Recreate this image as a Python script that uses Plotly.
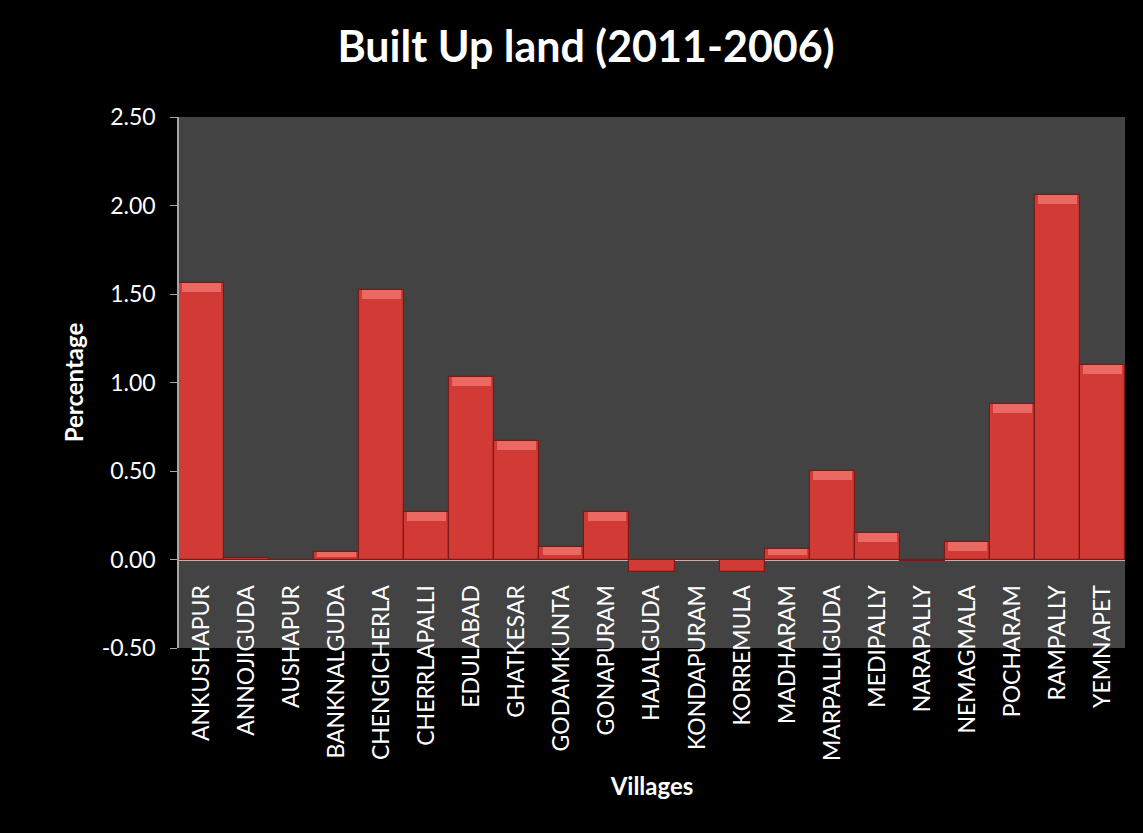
import plotly.graph_objects as go

# Change in built-up land share per village, 2006 -> 2011 (percentage points)
villages = [
    "ANKUSHAPUR", "ANNOJIGUDA", "AUSHAPUR", "BANKNALGUDA", "CHENGICHERLA",
    "CHERRLAPALLI", "EDULABAD", "GHATKESAR", "GODAMKUNTA", "GONAPURAM",
    "HAJALGUDA", "KONDAPURAM", "KORREMULA", "MADHARAM", "MARPALLIGUDA",
    "MEDIPALLY", "NARAPALLY", "NEMAGMALA", "POCHARAM", "RAMPALLY", "YEMNAPET",
]
built_up_change = [
    1.56, 0.01, 0.00, 0.04, 1.52,
    0.27, 1.03, 0.67, 0.07, 0.27,
    -0.07, 0.00, -0.07, 0.06, 0.50,
    0.15, -0.01, 0.10, 0.88, 2.06, 1.10,
]
y_ticks = [-0.5, 0.0, 0.5, 1.0, 1.5, 2.0, 2.5]
y_tick_text = [f"{v:.2f}" for v in y_ticks]

y_min, y_max = y_ticks[0], y_ticks[-1]
zero_pos = (0 - y_min) / (y_max - y_min)

FONT = "Lato"
BAR = "#d23a35"
BAR_EDGE = "#7a1a17"
BEVEL = "#ea6a63"

fig = go.Figure()

fig.add_trace(go.Bar(
    x=villages,
    y=built_up_change,
    marker=dict(color=BAR, line=dict(color=BAR_EDGE, width=1.2)),
    hoverinfo="x+y",
))

# lighter bevel strip along the top of each positive bar
bevel_h = 0.05
bevel_base = [v - min(bevel_h, v * 0.6) if v > 0.02 else None for v in built_up_change]
bevel_len = [min(bevel_h, v * 0.6) if v > 0.02 else None for v in built_up_change]
fig.add_trace(go.Bar(
    x=villages,
    y=bevel_len,
    base=bevel_base,
    marker=dict(color=BEVEL, line=dict(width=0)),
    width=0.86,
    hoverinfo="skip",
))

fig.update_layout(
    width=1143,
    height=833,
    paper_bgcolor="#000000",
    plot_bgcolor="#434343",
    barmode="overlay",
    bargap=0,
    showlegend=False,
    margin=dict(l=179, r=18, t=117, b=185),
    title=dict(
        text="<b>Built Up land (2011-2006)</b>",
        x=586 / 1143, xanchor="center",
        y=1 - 47 / 833, yanchor="middle",
        font=dict(family=FONT, size=43, color="#ffffff"),
    ),
    font=dict(family=FONT, color="#ffffff"),
)

fig.update_xaxes(
    type="category",
    anchor="free",
    position=zero_pos,
    showline=False,
    showgrid=False,
    ticks="",
    tickangle=-90,
    ticklabelstandoff=20,
    tickfont=dict(family=FONT, size=23, color="#ffffff"),
    title=dict(text="<b>Villages</b>", font=dict(family=FONT, size=24, color="#ffffff"), standoff=18),
    automargin=False,
)

fig.update_yaxes(
    range=[y_min, y_max],
    tickvals=y_ticks,
    ticktext=y_tick_text,
    showgrid=False,
    showline=True,
    linecolor="#a6a6a6",
    linewidth=1.5,
    ticks="outside",
    ticklen=7,
    tickcolor="#a6a6a6",
    ticklabelstandoff=10,
    zeroline=True,
    zerolinecolor="#c8aeaa",
    zerolinewidth=2,
    tickfont=dict(family=FONT, size=23, color="#ffffff"),
    title=dict(text="<b>Percentage</b>", font=dict(family=FONT, size=24, color="#ffffff"), standoff=11),
    automargin=False,
)

fig.write_html("out.html")
